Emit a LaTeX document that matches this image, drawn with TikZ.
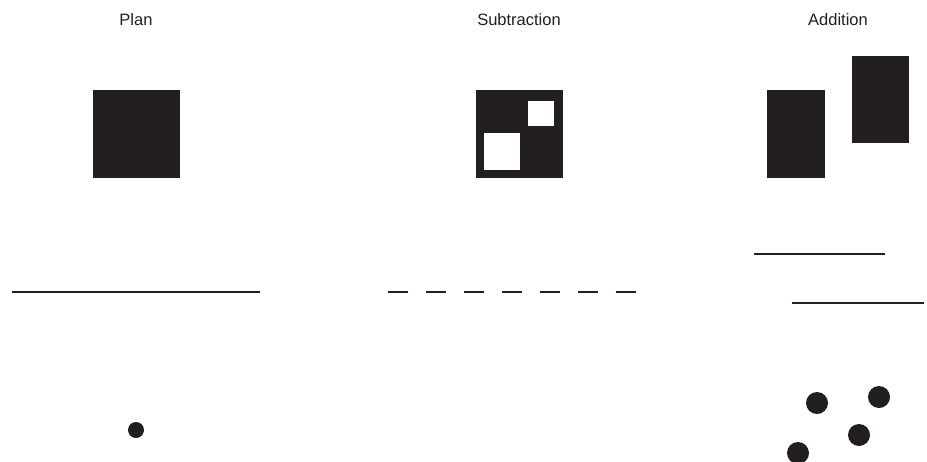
\documentclass[tikz,border=0pt]{standalone}
\usepackage{fontspec}
\setmainfont{Liberation Sans}
\definecolor{ink}{HTML}{231F20}
\begin{document}
\begin{tikzpicture}[x=1pt,y=-1pt,
  lbl/.style={anchor=base, inner sep=0pt, font=\fontsize{16.5}{19}\selectfont, text=ink},
  blk/.style={fill=ink, draw=none},
  hole/.style={fill=white, draw=none},
  ln/.style={draw=ink, line width=2.4pt},
  dsh/.style={draw=ink, line width=2.4pt, dash pattern=on 20pt off 18pt},
  dotsm/.style={circle, fill=ink, inner sep=0pt, minimum size=16pt},
  dotlg/.style={circle, fill=ink, inner sep=0pt, minimum size=22pt}]
\useasboundingbox (0,0) rectangle (927,461);
\clip (0,0) rectangle (927,461);
% labels
\node[lbl] (tplan) at (136,25) {Plan};
\node[lbl] (tsub) at (519,25) {Subtraction};
\node[lbl] (tadd) at (838,25) {Addition};
% row 1: volumes
\fill[blk] (93,90) rectangle (180,178);
\fill[blk] (476,90) rectangle (563,178);
\fill[hole] (528,101) rectangle (554,126);
\fill[hole] (484,133) rectangle (520,170);
\fill[blk] (767,90) rectangle (825,178);
\fill[blk] (852,56) rectangle (909,143);
% row 2: lines
\coordinate (pl1) at (12,292);
\coordinate (pl2) at (260,292);
\draw[ln] (pl1) -- (pl2);
\coordinate (sl1) at (388,292);
\coordinate (sl2) at (636,292);
\draw[dsh] (sl1) -- (sl2);
\coordinate (al1) at (754,254);
\coordinate (al2) at (885,254);
\draw[ln] (al1) -- (al2);
\coordinate (al3) at (792,303);
\coordinate (al4) at (924,303);
\draw[ln] (al3) -- (al4);
% row 3: points
\node[dotsm] (pd) at (136,430) {};
\node[dotlg] (ad1) at (817,403) {};
\node[dotlg] (ad2) at (879,397) {};
\node[dotlg] (ad3) at (859,435) {};
\node[dotlg] (ad4) at (798,453) {};
\end{tikzpicture}
\end{document}
